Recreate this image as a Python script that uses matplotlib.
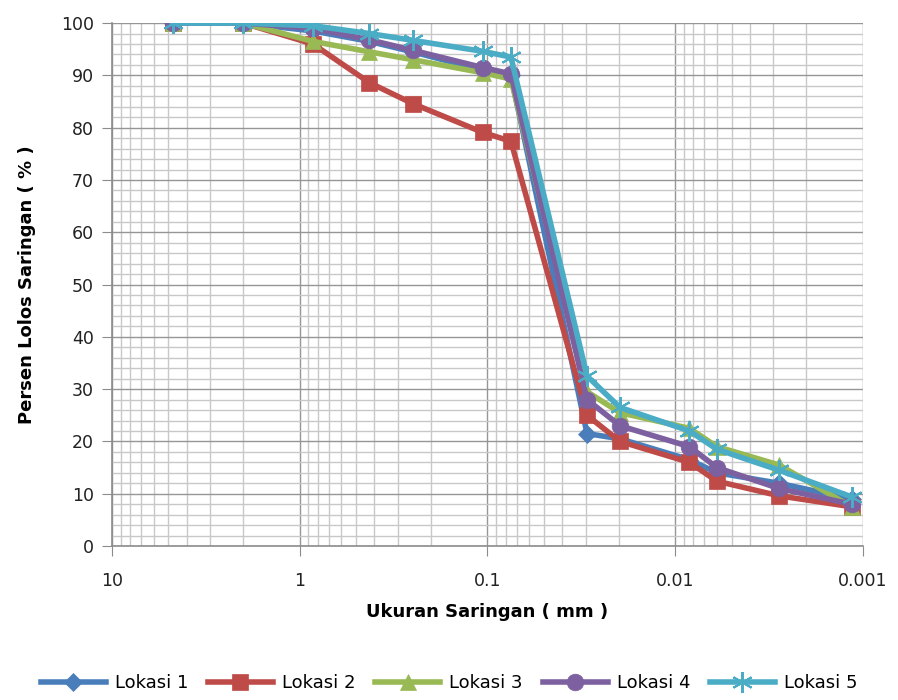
import numpy as np
import matplotlib
matplotlib.use("Agg")
import matplotlib.pyplot as plt
from matplotlib.ticker import FixedLocator, LogLocator, NullFormatter, MultipleLocator

# sieve / hydrometer grain sizes (mm)
ukuran = [4.75, 2.0, 0.85, 0.425, 0.25, 0.106, 0.075, 0.0295, 0.0197, 0.0084, 0.006, 0.0028, 0.00115]

lokasi1 = [100, 100, 98.5, 96.5, 94.5, 91.0, 90.0, 21.5, 20.5, 16.5, 14.0, 12.0, 9.0]
lokasi2 = [100, 100, 96.0, 88.6, 84.6, 79.1, 77.4, 25.0, 20.0, 16.0, 12.4, 9.6, 7.5]
lokasi3 = [100, 100, 96.5, 94.5, 93.0, 90.5, 89.3, 29.5, 25.5, 22.5, 19.0, 15.5, 7.5]
lokasi4 = [100, 100, 99.0, 96.8, 94.8, 91.5, 90.3, 28.0, 23.0, 19.0, 15.0, 11.0, 8.0]
lokasi5 = [100, 100, 99.5, 98.0, 96.7, 94.6, 93.5, 32.5, 26.5, 22.0, 18.5, 14.5, 9.4]

series = [lokasi1, lokasi2, lokasi3, lokasi4, lokasi5]
labels = ["Lokasi 1", "Lokasi 2", "Lokasi 3", "Lokasi 4", "Lokasi 5"]
colors = ["#4A7EBB", "#BE4B48", "#98B954", "#7D60A0", "#4BACC6"]
markers = ["D", "s", "^", "o", (6, 2, 0)]
msizes = [9, 12, 11, 12, 15]
xticks = [10, 1, 0.1, 0.01, 0.001]
xticklabels = ["10", "1", "0.1", "0.01", "0.001"]

plt.rcParams['font.family'] = ['DejaVu Sans']

fig = plt.figure(figsize=(8.98, 7.0), dpi=100)
ax = fig.add_axes([0.1247, 0.22, 0.8363, 0.747])

for ys, lab, c, m, ms in zip(series, labels, colors, markers, msizes):
    mew = 1.5 if m == (6, 2, 0) else 0.5
    ax.plot(ukuran, ys, color=c, linewidth=4, marker=m, markersize=ms,
            markerfacecolor=c, markeredgecolor=c, markeredgewidth=mew, label=lab)

ax.set_xscale("log")
ax.set_xlim(10, 0.001)
ax.set_ylim(0, 100)

ax.xaxis.set_major_locator(FixedLocator(xticks))
ax.set_xticklabels(xticklabels)
ax.xaxis.set_minor_locator(LogLocator(base=10, subs=np.arange(2, 10)))
ax.xaxis.set_minor_formatter(NullFormatter())
ax.yaxis.set_major_locator(MultipleLocator(10))
ax.yaxis.set_minor_locator(MultipleLocator(2))

ax.grid(which="major", color="#969696", linewidth=1.0)
ax.grid(which="minor", color="#c8c8c8", linewidth=1.0)
ax.set_axisbelow(True)

for s in ["top", "right"]:
    ax.spines[s].set_visible(False)
for s in ["left", "bottom"]:
    ax.spines[s].set_color("#8c8c8c")
    ax.spines[s].set_linewidth(1.2)

ax.tick_params(which="major", length=7, color="#8c8c8c", labelsize=12.5, pad=12, labelcolor="#222222")
ax.tick_params(axis="y", which="major", pad=6)
ax.tick_params(which="minor", length=0)

ax.set_xlabel("Ukuran Saringan ( mm )", fontsize=13, fontweight="bold", labelpad=9)
ax.set_ylabel("Persen Lolos Saringan ( % )", fontsize=13, fontweight="bold", labelpad=18)

fig.legend(loc="lower center", bbox_to_anchor=(0.5, -0.012), ncol=5, frameon=False,
           fontsize=13, handlelength=3.6, columnspacing=1.1, handletextpad=0.5)

fig.savefig("out.png", dpi=100)
